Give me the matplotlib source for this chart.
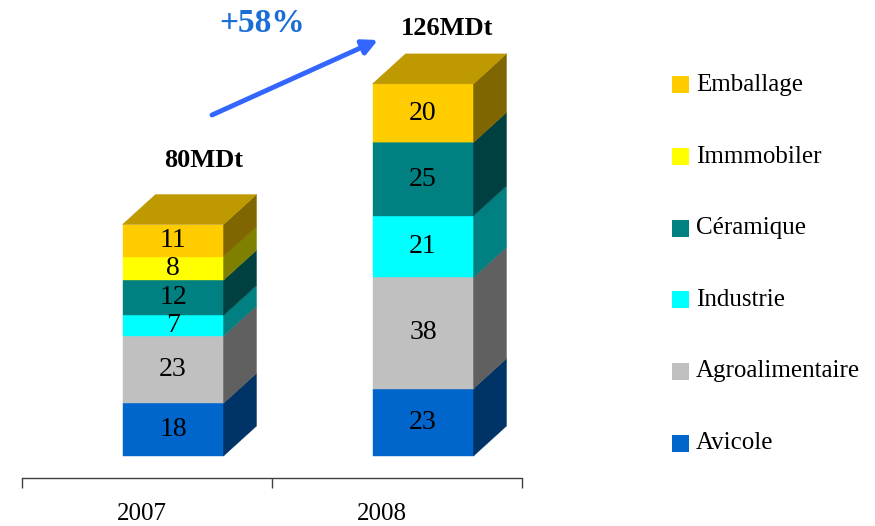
import matplotlib
matplotlib.use("Agg")
import matplotlib.pyplot as plt
from matplotlib.patches import Polygon, Rectangle
import numpy as np

# ---- data ----
years = ["2007", "2008"]
series = ["Avicole", "Agroalimentaire", "Industrie", "Céramique", "Immmobiler", "Emballage"]
values_2007 = [18, 23, 7, 12, 8, 11]
values_2008 = [23, 38, 21, 25, 0, 20]
total_labels = ["80MDt", "126MDt"]
growth_label = "+58%"

front_colors = ["#0066CC", "#C0C0C0", "#00FFFF", "#008080", "#FFFF00", "#FFCC00"]
side_colors = ["#003366", "#606060", "#008080", "#004040", "#808000", "#806600"]
top_color = "#BF9900"

W, H = 875, 526
fig = plt.figure(figsize=(W / 100, H / 100), dpi=100)
serif = ["Liberation Serif", "DejaVu Serif"]

# axes: x from px 22 to 522, bottom line at px 478, top at px 0
px_per_unit = 2.93
ax = fig.add_axes([22 / W, (H - 478) / H, 500 / W, 478 / H])
ax.set_xlim(-0.5, 1.5)
ylow = -22 / px_per_unit
ax.set_ylim(ylow, ylow + 478 / px_per_unit)

bar_w = 0.404
bar_shift = 0.104
dx = 33 / 250
dy = 30 / px_per_unit

data = np.array([values_2007, values_2008], dtype=float)
x = np.arange(len(years))
bottoms = np.zeros(len(years))
for j, name in enumerate(series):
    vals = data[:, j]
    ax.bar(x + bar_shift, vals, width=bar_w, bottom=bottoms, color=front_colors[j],
           edgecolor=front_colors[j], linewidth=0.3, clip_on=False, zorder=2)
    for i in range(len(years)):
        v = vals[i]
        if v <= 0:
            continue
        b = bottoms[i]
        xr = x[i] + bar_shift + bar_w / 2
        side = Polygon([(xr, b), (xr + dx, b + dy), (xr + dx, b + v + dy), (xr, b + v)],
                       closed=True, facecolor=side_colors[j], edgecolor=side_colors[j],
                       linewidth=0.3, clip_on=False, zorder=2)
        ax.add_patch(side)
        ax.text(x[i] + bar_shift, b + v / 2, f"{int(v)}", ha="center", va="center",
                fontsize=20, family=serif, color="black", zorder=3)
    bottoms = bottoms + vals

# top faces and total labels
label_dx = [0.055, 0.03]
label_dy = [11.5, 8.5]
for i in range(len(years)):
    T = bottoms[i]
    xl = x[i] + bar_shift - bar_w / 2
    xr = x[i] + bar_shift + bar_w / 2
    top = Polygon([(xl, T), (xl + dx, T + dy), (xr + dx, T + dy), (xr, T)], closed=True,
                  facecolor=top_color, edgecolor=top_color, linewidth=0.3, clip_on=False, zorder=2)
    ax.add_patch(top)
    ax.text(x[i] + bar_shift + dx / 2 + label_dx[i], T + dy + label_dy[i], total_labels[i],
            ha="center", va="center", fontsize=19, fontweight="bold", family=serif, color="black")

# axis styling
for s in ["left", "right", "top"]:
    ax.spines[s].set_visible(False)
ax.spines["bottom"].set_color("#404040")
ax.spines["bottom"].set_linewidth(1.0)
ax.spines["bottom"].set_position(("data", ylow))
ax.set_yticks([])
ax.set_xticks([-0.5, 0.5, 1.5])
ax.set_xticklabels([])
ax.tick_params(axis="x", direction="out", length=7, width=1, color="#404040")
ax.set_facecolor("none")
for i, yr in enumerate(years):
    ax.text(x[i] - 0.02 - 0.04 * i, ylow - 36 / px_per_unit, yr, ha="center", va="center",
            fontsize=18, family=serif, color="black", clip_on=False)

# growth arrow and label (figure pixel positions)
def fp(px, py):
    return (px / W, 1 - py / H)

fig.text(*fp(262, 24), growth_label, ha="center", va="center", fontsize=24,
         fontweight="bold", family=serif, color="#1A6FD6")
ax.annotate("", xy=fp(378, 40), xytext=fp(212, 115), xycoords="figure fraction",
            textcoords="figure fraction",
            arrowprops=dict(arrowstyle="-|>,head_length=0.9,head_width=0.45", color="#3366FF",
                            lw=3.5, shrinkA=0, shrinkB=0))

# legend (manual)
leg_y0, leg_step = 85, 71.6
for k, j in enumerate(reversed(range(len(series)))):
    cy = leg_y0 + k * leg_step
    fig.add_artist(Rectangle(fp(672, cy + 8.5), 17 / W, 17 / H, transform=fig.transFigure,
                             facecolor=front_colors[j], edgecolor="none"))
    fig.text(*fp(696, cy), series[j], ha="left", va="center", fontsize=18,
             family=serif, color="black")

fig.savefig("out.png", dpi=100)
